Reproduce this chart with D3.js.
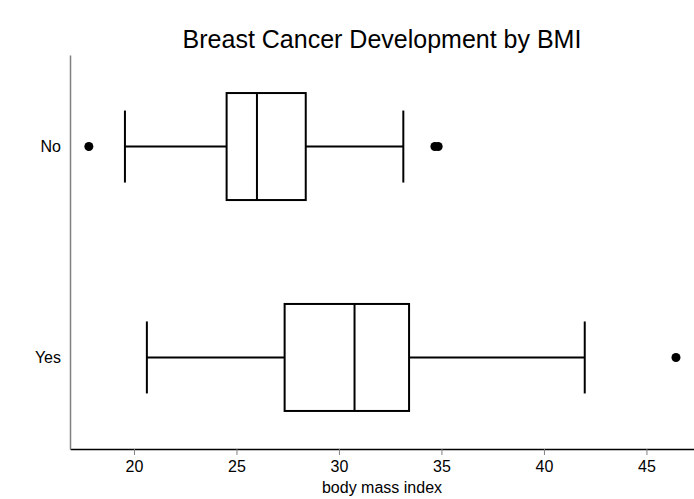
<!DOCTYPE html>
<html>
<head>
<meta charset="utf-8">
<script src="https://cdn.jsdelivr.net/npm/d3@7"></script>
<style>
	body { margin: 0; background: #fff; }
	text { font-family: "Liberation Sans", Arial, sans-serif; fill: #000; }
</style>
</head>
<body>
<svg id="chart"></svg>
<script>
const groups = ["No", "Yes"];
const lowerWhisker = [19.56, 20.63];
const q1 = [24.52, 27.35];
const median = [26.0, 30.76];
const q3 = [28.38, 33.42];
const upperWhisker = [33.14, 41.99];
const outliers = [[17.8, 34.68, 34.84], [46.44]];
const xTicks = [20, 25, 30, 35, 40, 45];

const margin = { top: 55, right: 0, bottom: 50, left: 70 }
const width = 694 - margin.left - margin.right;
const height = 499 - margin.top - margin.bottom;

const svg = d3.select("#chart")
	.attr("width", width + margin.left + margin.right)
	.attr("height", height + margin.top + margin.bottom);

const g = svg.append("g")
	.attr("transform", `translate(${margin.left},${margin.top})`);

const x = d3.scaleLinear()
	.domain([16.88, 47.32])
	.range([0, width]);

const y = d3.scalePoint()
	.domain(groups)
	.range([0, height])
	.padding(0.434);

const boxHalf = 53.5;
const capHalf = 36;

// title
svg.append("text")
	.attr("x", margin.left + width / 2)
	.attr("y", 48)
	.attr("text-anchor", "middle")
	.style("font-size", "25px")
	.text("Breast Cancer Development by BMI");

// x axis
const xAxis = g.append("g")
	.attr("transform", `translate(0, ${height})`)
	.call(d3.axisBottom(x).tickValues(xTicks).tickSize(6).tickSizeOuter(0));
xAxis.select(".domain").attr("stroke", "#000").attr("stroke-width", 1.5);
xAxis.selectAll(".tick line").attr("stroke", "#808080");
xAxis.selectAll(".tick text")
	.attr("y", 12)
	.style("font-size", "16px")
	.attr("font-family", null);

g.append("text")
	.attr("x", width / 2)
	.attr("y", height + 44)
	.attr("text-anchor", "middle")
	.style("font-size", "16px")
	.text("body mass index");

// y axis
const yAxis = g.append("g")
	.call(d3.axisLeft(y).tickSize(0).tickPadding(9));
yAxis.select(".domain").attr("stroke", "#808080").attr("stroke-width", 1.5);
yAxis.selectAll(".tick text")
	.style("font-size", "16px")
	.attr("font-family", null);

// boxes
const boxes = g.selectAll(".box")
	.data(groups)
	.enter().append("g")
	.attr("class", "box");

boxes.append("line")
	.attr("x1", (d, i) => x(lowerWhisker[i]))
	.attr("x2", (d, i) => x(q1[i]))
	.attr("y1", d => y(d)).attr("y2", d => y(d));
boxes.append("line")
	.attr("x1", (d, i) => x(q3[i]))
	.attr("x2", (d, i) => x(upperWhisker[i]))
	.attr("y1", d => y(d)).attr("y2", d => y(d));
boxes.append("line")
	.attr("x1", (d, i) => x(lowerWhisker[i])).attr("x2", (d, i) => x(lowerWhisker[i]))
	.attr("y1", d => y(d) - capHalf).attr("y2", d => y(d) + capHalf);
boxes.append("line")
	.attr("x1", (d, i) => x(upperWhisker[i])).attr("x2", (d, i) => x(upperWhisker[i]))
	.attr("y1", d => y(d) - capHalf).attr("y2", d => y(d) + capHalf);
boxes.append("rect")
	.attr("x", (d, i) => x(q1[i]))
	.attr("width", (d, i) => x(q3[i]) - x(q1[i]))
	.attr("y", d => y(d) - boxHalf)
	.attr("height", boxHalf * 2)
	.attr("fill", "#fff");
boxes.append("line")
	.attr("x1", (d, i) => x(median[i])).attr("x2", (d, i) => x(median[i]))
	.attr("y1", d => y(d) - boxHalf).attr("y2", d => y(d) + boxHalf);
boxes.selectAll("line, rect")
	.attr("stroke", "#000")
	.attr("stroke-width", 2);

boxes.selectAll("circle")
	.data((d, i) => outliers[i].map(v => ({ v: v, grp: d })))
	.enter().append("circle")
	.attr("cx", d => x(d.v))
	.attr("cy", d => y(d.grp))
	.attr("r", 4.5)
	.attr("fill", "#000");
</script>
</body>
</html>
